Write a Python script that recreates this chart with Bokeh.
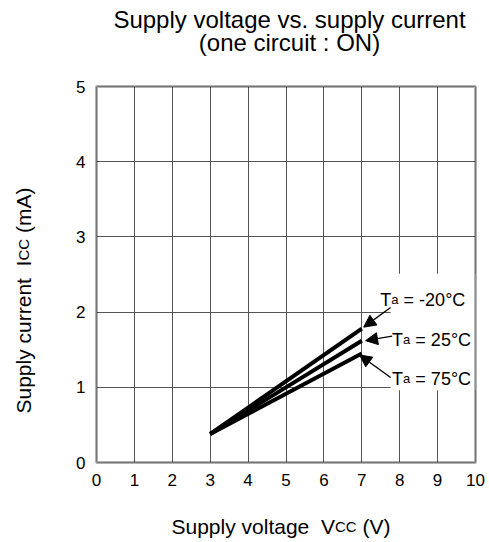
import math
from bokeh.plotting import figure
from bokeh.models import Range1d, FixedTicker, Label, Arrow, NormalHead, BoxAnnotation
from bokeh.embed import file_html
from bokeh.resources import INLINE

# ---------------- data ----------------
supply_voltage = [3, 7]
icc_m20 = [0.38, 1.78]
icc_25 = [0.38, 1.62]
icc_75 = [0.38, 1.45]
temps = ["-20°C", "25°C", "75°C"]
x_ticks = [0, 1, 2, 3, 4, 5, 6, 7, 8, 9, 10]
y_ticks = [0, 1, 2, 3, 4, 5]

FONT = "Liberation Sans"
WIDTH, HEIGHT = 489, 542
# plot area in canvas pixels
F_LEFT, F_RIGHT, F_TOP, F_BOTTOM = 96, 475, 86, 462
X0, X1, Y0, Y1 = 0, 10, 0, 5

# Arial/Liberation Sans advance widths (per 1000 em)
W = {' ': 278, '(': 333, ')': 333, '-': 333, '.': 278, ':': 278, '=': 584, '°': 400,
     'A': 667, 'C': 722, 'I': 278, 'N': 722, 'O': 778, 'S': 667, 'T': 611, 'V': 667,
     'a': 556, 'c': 500, 'e': 556, 'g': 556, 'i': 222, 'l': 222, 'm': 833, 'n': 556,
     'o': 556, 'p': 556, 'r': 333, 's': 500, 't': 278, 'u': 556, 'v': 500, 'y': 500}
for d in "0123456789":
    W[d] = 556


def tw(s, size):
    return sum(W.get(c, 556) for c in s) / 1000.0 * size


sx = (F_RIGHT - F_LEFT) / (X1 - X0)
sy = (F_BOTTOM - F_TOP) / (Y1 - Y0)
x_range = Range1d(X0 - F_LEFT / sx, X1 + (WIDTH - F_RIGHT) / sx)
y_range = Range1d(Y0 - (HEIGHT - F_BOTTOM) / sy, Y1 + F_TOP / sy)

p = figure(width=WIDTH, height=HEIGHT, output_backend="svg", toolbar_location=None,
           x_range=x_range, y_range=y_range, min_border=0)
p.background_fill_color = "white"
p.border_fill_color = "white"
p.outline_line_color = None

for ax in (p.xaxis, p.yaxis):
    ax.axis_line_color = None
    ax.major_tick_line_color = None
    ax.minor_tick_line_color = None
    ax.major_tick_in = 0
    ax.major_tick_out = 0
    ax.major_label_text_font = FONT
    ax.major_label_text_font_size = "17px"
    ax.major_label_text_color = "black"
p.xaxis.ticker = FixedTicker(ticks=x_ticks)
p.yaxis.ticker = FixedTicker(ticks=y_ticks)
p.xaxis.fixed_location = Y0
p.yaxis.fixed_location = X0
p.xaxis.bounds = (X0, X1)
p.yaxis.bounds = (Y0, Y1)
p.xaxis.major_label_standoff = 11
p.yaxis.major_label_standoff = 11

p.xgrid.ticker = FixedTicker(ticks=x_ticks)
p.ygrid.ticker = FixedTicker(ticks=y_ticks)
for g in (p.xgrid, p.ygrid):
    g.grid_line_color = "#555555"
    g.grid_line_width = 1
    g.grid_line_alpha = 1
p.xgrid.bounds = (X0, X1)
p.ygrid.bounds = (Y0, Y1)
try:
    p.xgrid.cross_bounds = (Y0, Y1)
    p.ygrid.cross_bounds = (X0, X1)
except Exception:
    pass
# mask anything of the grid outside the plot area
for kw in (dict(right=X0), dict(left=X1), dict(top=Y0), dict(bottom=Y1)):
    p.add_layout(BoxAnnotation(fill_color="white", fill_alpha=1, line_color=None,
                               level="underlay", **kw))

# white area behind the temperature labels
p.add_layout(BoxAnnotation(left=7.76, right=X1, bottom=0.96, top=2.51,
                           fill_color="white", fill_alpha=1, line_color=None,
                           level="underlay"))

# curves
for ys in (icc_m20, icc_25, icc_75):
    p.line(supply_voltage, ys, line_color="black", line_width=4)

# plot frame
p.add_layout(BoxAnnotation(left=X0, right=X1, bottom=Y0, top=Y1, fill_alpha=0,
                           fill_color=None, line_color="black", line_width=3,
                           level="overlay"))


def pieces(parts, x, y, angle=0.0, units="screen"):
    """parts: list of (text, size_px, gap_before_px). Lays texts along the baseline."""
    off = 0.0
    for txt, sz, gap in parts:
        off += gap
        dx = off * math.cos(angle)
        dy = off * math.sin(angle)
        if units == "screen":
            kw = dict(x=x + dx, y=y + dy, x_units="screen", y_units="screen")
        else:
            kw = dict(x=x, y=y, x_offset=dx, y_offset=dy)
        p.add_layout(Label(text=txt, text_font=FONT, text_font_size=f"{sz}px",
                           text_color="black", text_align="left",
                           text_baseline="alphabetic", angle=angle, **kw))
        off += tw(txt, sz)


# temperature labels: T + subscript a + rest
label_pos = [(7.49, 2.165), (7.80, 1.635), (7.80, 1.115)]
BIG, SMALL = 18, 13
for (lx, ly), t in zip(label_pos, temps):
    pieces([("T", BIG, 0), ("a", SMALL, 0), ("=", BIG, tw(" ", BIG)),
            (t, BIG, tw(" ", BIG))], lx, ly, units="data")

# arrows from labels to curve ends
arrow_tails = [(7.76, 2.06), (7.80, 1.68), (7.76, 1.13)]
arrow_tips = [(7.05, 1.80), (7.10, 1.62), (6.94, 1.43)]
for (x0, y0), (x1, y1) in zip(arrow_tails, arrow_tips):
    p.add_layout(Arrow(end=NormalHead(size=12, fill_color="black", line_color="black"),
                       x_start=x0, y_start=y0, x_end=x1, y_end=y1,
                       line_color="black", line_width=1.3))


def cy(py):  # canvas pixel row (from top) -> screen y (from bottom)
    return HEIGHT - py


# title
for txt, py in (("Supply voltage vs. supply current", 19), ("(one circuit : ON)", 42)):
    p.add_layout(Label(x=289, y=cy(py), x_units="screen", y_units="screen", text=txt,
                       text_font=FONT, text_font_size="24px", text_color="black",
                       text_align="center", text_baseline="alphabetic"))

AX, SUB = 21, 15
sp = tw(" ", AX)
# x axis label: Supply voltage  Vcc (V)
pieces([("Supply voltage", AX, 0), ("V", AX, 2 * sp), ("CC", SUB, 0), ("(V)", AX, sp)],
       171, cy(526))
# y axis label: Supply current  Icc (mA), rotated
pieces([("Supply", AX, 0), ("current", AX, sp), ("I", AX, 2 * sp), ("CC", SUB, 0),
        ("(mA)", AX, sp)], 23, cy(413), angle=math.pi / 2)

open("out.html", "w").write(file_html(p, INLINE))
